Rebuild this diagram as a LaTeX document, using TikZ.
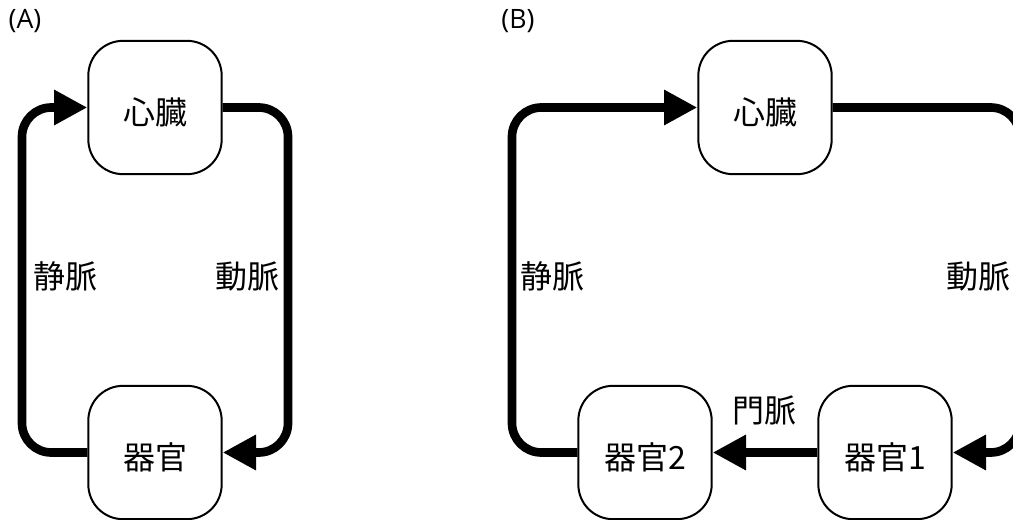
\documentclass[tikz,border=0pt]{standalone}
\usepackage{fontspec}
\setmainfont{Noto Sans CJK JP}
\newfontfamily\tagfont{Open Sans}
\usetikzlibrary{arrows.meta}
\begin{document}
\begin{tikzpicture}[x=0.75pt,y=-0.75pt,
  organ/.style={draw, line width=1.5pt, rounded corners=26pt, minimum width=100pt,
    minimum height=100pt, inner sep=0pt, text height=25pt, text depth=0pt,
    font=\fontsize{24}{28}\selectfont},
  flow/.style={line width=6.5pt, rounded corners=22pt,
    -{Triangle[length=25pt,width=25pt]}},
  lbl/.style={inner sep=0pt, font=\fontsize{24}{28}\selectfont},
  tag/.style={inner sep=0pt, font=\tagfont\fontsize{20}{24}\selectfont}]
\useasboundingbox (0,0) rectangle (1013,520);
\clip (0,0) rectangle (1013,520);

% panel A: single organ loop
\node[tag] (tA) at (25,21) {(A)};
\node[organ] (heartA) at (155,107.5) {心臓};
\node[organ] (organA) at (155,452.5) {器官};
\coordinate (lA) at (22,280);
\coordinate (rA) at (288,280);
\draw[flow] (organA.west) -| (lA) |- (heartA.west);
\draw[flow] (heartA.east) -| (rA) |- (organA.east);
\node[lbl] (vA) at (65,276) {静脈};
\node[lbl] (aA) at (247,276) {動脈};

% panel B: two organs joined by a portal vein
\node[tag] (tB) at (518,21) {(B)};
\node[organ] (heartB) at (765,107.5) {心臓};
\node[organ] (organB2) at (645,452.5) {器官2};
\node[organ] (organB1) at (885,452.5) {器官1};
\coordinate (lB) at (512,280);
\coordinate (rB) at (1020,280);
\draw[flow] (organB2.west) -| (lB) |- (heartB.west);
\draw[flow] (heartB.east) -| (rB) |- (organB1.east);
\draw[flow] (organB1.west) -- (organB2.east);
\node[lbl] (vB) at (552,276) {静脈};
\node[lbl] (aB) at (978,276) {動脈};
\node[lbl] (pB) at (764,410) {門脈};
\end{tikzpicture}
\end{document}
